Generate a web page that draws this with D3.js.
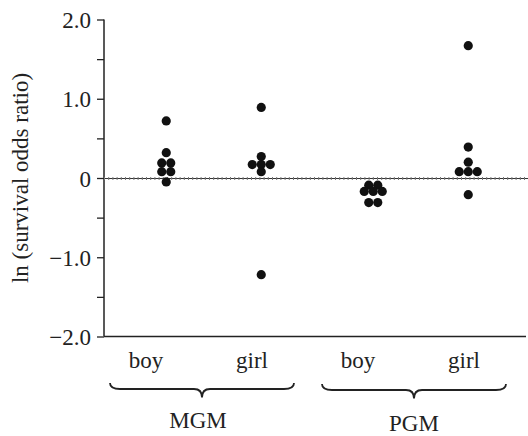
<!DOCTYPE html>
<html><head><meta charset="utf-8">
<script src="https://cdn.jsdelivr.net/npm/d3@7"></script>
<style>
html,body{margin:0;padding:0;background:#fff;}
text{font-family:"Liberation Serif","Times New Roman",serif;fill:#222;}
</style></head>
<body><svg id="c" width="528" height="436"></svg>
<script>
const grandmothers = ["MGM", "PGM"];
const sexes = ["boy", "girl"];
const mgmBoy  = [0.72, 0.32, 0.19, 0.19, 0.08, 0.08, -0.05];
const mgmGirl = [0.89, 0.27, 0.17, 0.17, 0.17, 0.08, -1.22];
const pgmBoy  = [-0.09, -0.09, -0.17, -0.17, -0.17, -0.31, -0.31];
const pgmGirl = [1.67, 0.39, 0.20, 0.08, 0.08, 0.08, -0.21];
const yMajorTicks = [2, 1, 0, -1, -2];
const yTickLabels = ["2.0", "1.0", "0", "\u22121.0", "\u22122.0"];
const yMinorTicks = [1.5, 0.5, -0.5, -1.5];
const yTitle = "ln (survival odds ratio)";

const groups = [
  {gm: "MGM", sex: "boy", values: mgmBoy},
  {gm: "MGM", sex: "girl", values: mgmGirl},
  {gm: "PGM", sex: "boy", values: pgmBoy},
  {gm: "PGM", sex: "girl", values: pgmGirl}
];

const svg = d3.select("#c");
const axisX = 104, axisRight = 526;
const y = d3.scaleLinear().domain([-2, 2]).range([336.5, 19.5]);

// dot positions (two-level scale)
const outerDots = d3.scalePoint().domain(grandmothers).range([213.75, 420.75]);
const innerDots = d3.scalePoint().domain(sexes).range([-47.5, 47.5]);
// label positions
const outerLab = d3.scalePoint().domain(grandmothers).range([199, 411]);
const innerLab = d3.scalePoint().domain(sexes).range([-53, 53]);

const ink = "#222";

// y axis
const yAxis = d3.axisLeft(y).tickValues(yMajorTicks).tickSize(7)
  .tickFormat((d, i) => yTickLabels[i]);
const gy = svg.append("g").attr("transform", `translate(${axisX},0)`).call(yAxis);
gy.select(".domain").remove();
gy.selectAll(".tick line").attr("stroke", ink).attr("stroke-width", 1.3);
gy.selectAll(".tick text").attr("font-size", 23).attr("x", -13).attr("dy", "0.35em")
  .style("font-family", '"Liberation Serif","Times New Roman",serif').attr("fill", ink);
const gyMinor = svg.append("g").attr("transform", `translate(${axisX},0)`)
  .call(d3.axisLeft(y).tickValues(yMinorTicks).tickSize(7).tickFormat(""));
gyMinor.select(".domain").remove();
gyMinor.selectAll(".tick line").attr("stroke", ink).attr("stroke-width", 1.3);

// spines
svg.append("line").attr("x1", axisX).attr("x2", axisX).attr("y1", y(2)).attr("y2", y(-2))
  .attr("stroke", ink).attr("stroke-width", 1.5);
svg.append("line").attr("x1", axisX).attr("x2", axisRight).attr("y1", y(-2)).attr("y2", y(-2))
  .attr("stroke", ink).attr("stroke-width", 1.5);

// zero reference line (dotted)
svg.append("line").attr("x1", axisX).attr("x2", 528).attr("y1", y(0) + 0.5).attr("y2", y(0) + 0.5)
  .attr("stroke", "#333").attr("stroke-width", 1);
svg.append("line").attr("x1", axisX).attr("x2", 528).attr("y1", y(0) + 0.5).attr("y2", y(0) + 0.5)
  .attr("stroke", "#777").attr("stroke-width", 3).attr("stroke-dasharray", "1,3.2");

// dots (beeswarm: identical values spread horizontally)
const spacing = 9;
groups.forEach(g => {
  const cx = outerDots(g.gm) + innerDots(g.sex);
  const counts = d3.rollup(g.values, v => v.length, d => d);
  const seen = new Map();
  g.values.forEach(v => {
    const n = counts.get(v);
    const i = seen.get(v) || 0; seen.set(v, i + 1);
    svg.append("circle").attr("cx", cx + (i - (n - 1) / 2) * spacing).attr("cy", y(v))
      .attr("r", 4.6).attr("fill", "#111");
  });
});

// x category labels
groups.forEach(g => {
  svg.append("text").attr("x", outerLab(g.gm) + innerLab(g.sex)).attr("y", 368)
    .attr("text-anchor", "middle").attr("font-size", 23).text(g.sex);
});

// braces and group labels
grandmothers.forEach((gm, k) => {
  const xc = outerLab(gm) + 3, half = 92;
  const x0 = xc - half, x1 = xc + half;
  const yt = 383 + k, ym = 389 + k, ytip = 397.5 + k;
  const p = d3.path();
  p.moveTo(x0, yt);
  p.quadraticCurveTo(x0, ym, x0 + 10, ym);
  p.lineTo(xc - 8, ym);
  p.quadraticCurveTo(xc, ym, xc, ytip);
  p.quadraticCurveTo(xc, ym, xc + 8, ym);
  p.lineTo(x1 - 10, ym);
  p.quadraticCurveTo(x1, ym, x1, yt);
  svg.append("path").attr("d", p.toString()).attr("fill", "none")
    .attr("stroke", ink).attr("stroke-width", 1.8);
  svg.append("text").attr("x", xc - 3 + (k ? 3 : -1)).attr("y", 428 + k * 3)
    .attr("text-anchor", "middle").attr("font-size", 23).text(gm);
});

// y title
svg.append("text").attr("transform", `translate(28,${y(0)}) rotate(-90)`)
  .attr("text-anchor", "middle").attr("font-size", 23).text(yTitle);
</script></body></html>
